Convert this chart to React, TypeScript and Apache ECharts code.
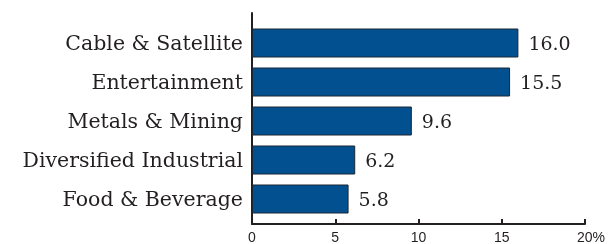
import React, { useEffect, useRef } from "react";
import * as echarts from "echarts";

const categories = [
  "Cable & Satellite",
  "Entertainment",
  "Metals & Mining",
  "Diversified Industrial",
  "Food & Beverage",
];
const values = [16.0, 15.5, 9.6, 6.2, 5.8];
const tickMax = 20;
const tickStep = 5;

export default function App() {
  const ref = useRef<HTMLDivElement>(null);
  useEffect(() => {
    if (!ref.current) return;
    const chart = echarts.init(ref.current, undefined, { renderer: "svg" });
    const serif = "'DejaVu Serif', serif";
    const sans = "'Liberation Sans', sans-serif";
    chart.setOption({
      animation: false,
      grid: [
        { left: 252, right: 27, top: 23.5, height: 195 },
        { left: 252, right: 27, top: 13, bottom: 16 },
      ],
      xAxis: [
        { type: "value", gridIndex: 0, min: 0, max: tickMax, show: false },
        {
          type: "value",
          gridIndex: 1,
          min: 0,
          max: tickMax,
          interval: tickStep,
          axisLine: { show: true, lineStyle: { color: "#231f20", width: 2 } },
          axisTick: { show: true, inside: true, length: 5, lineStyle: { color: "#231f20", width: 2 } },
          splitLine: { show: false },
          axisLabel: {
            margin: 6,
            fontFamily: sans,
            fontSize: 14,
            color: "#231f20",
            formatter: (v: number) => (v === tickMax ? "{p|" + v + "%}" : String(v)),
            rich: { p: { padding: [0, 0, 0, 12], fontSize: 14, fontFamily: sans, color: "#231f20" } },
          },
        },
      ],
      yAxis: [
        {
          type: "category",
          gridIndex: 0,
          data: categories,
          inverse: true,
          axisLine: { show: false },
          axisTick: { show: false },
          axisLabel: { margin: 9, fontFamily: serif, fontSize: 20.5, color: "#231f20" },
        },
        {
          type: "value",
          gridIndex: 1,
          min: 0,
          max: 1,
          axisLine: { show: true, lineStyle: { color: "#231f20", width: 2 } },
          axisTick: { show: false },
          axisLabel: { show: false },
          splitLine: { show: false },
        },
      ],
      series: [
        {
          type: "bar",
          xAxisIndex: 0,
          yAxisIndex: 0,
          data: values,
          barWidth: 29,
          itemStyle: { color: "#02508f", borderColor: "#1b2633", borderWidth: 1 },
          label: {
            show: true,
            position: "right",
            distance: 10,
            fontFamily: serif,
            fontSize: 19,
            color: "#231f20",
            formatter: (p: any) => Number(p.value).toFixed(1),
          },
        },
      ],
    });
    return () => chart.dispose();
  }, []);
  return <div ref={ref} style={{ position: "fixed", left: 0, top: 0, width: 612, height: 244 }} />;
}
